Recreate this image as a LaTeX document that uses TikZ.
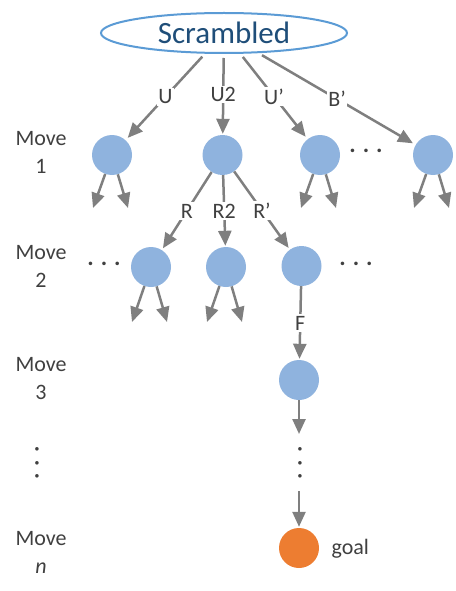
\documentclass[tikz,border=0pt]{standalone}
\usepackage{fontspec}
\setmainfont{Carlito}
\usetikzlibrary{arrows.meta,shapes.geometric}
\definecolor{lgray}{RGB}{127,127,127}
\definecolor{nodeblue}{RGB}{143,179,222}
\definecolor{ellblue}{RGB}{91,155,213}
\definecolor{txtblue}{RGB}{31,78,121}
\definecolor{goalor}{RGB}{237,125,49}
\definecolor{txtgray}{RGB}{64,64,64}
\begin{document}
\begin{tikzpicture}[x=1pt,y=-1pt,
  state/.style={circle,fill=nodeblue,minimum size=40pt,inner sep=0pt},
  goalstate/.style={circle,fill=goalor,minimum size=40pt,inner sep=0pt},
  arr/.style={draw=lgray,line width=2.5pt,-{Triangle[length=15pt,width=13pt]},fill=lgray},
  elab/.style={fill=white,inner sep=1.5pt,text=txtgray,font=\fontsize{22}{26}\selectfont},
  movelab/.style={align=center,text=txtgray,font=\fontsize{22}{28}\selectfont},
  hdots/.style={text=txtgray,font=\fontsize{24}{26}\bfseries\selectfont,inner sep=0pt},
  vdotsnode/.style={text=txtgray,font=\fontsize{24}{26}\bfseries\selectfont,inner sep=0pt,rotate=90}
]
\useasboundingbox (0,0) rectangle (455,591);

% root
\node[ellipse,draw=ellblue,line width=2pt,minimum width=246pt,minimum height=40pt,inner sep=0pt,
      text=txtblue,font=\fontsize{31}{34}\selectfont] (S) at (224,33) {Scrambled};

% level 1
\node[state] (a1) at (112,155) {};
\node[state] (a2) at (222.5,155) {};
\node[state] (a3) at (320,155) {};
\node[state] (a4) at (433,155) {};
\node[hdots] (d1) at (366,151) {.\hspace{7pt}.\hspace{7pt}.};

% level 2
\node[state] (b1) at (151,267) {};
\node[state] (b2) at (226,267) {};
\node[state] (b3) at (301.5,266) {};
\node[hdots] (d2) at (104,264) {.\hspace{7pt}.\hspace{7pt}.};
\node[hdots] (d3) at (356,264) {.\hspace{7pt}.\hspace{7pt}.};

% level 3
\node[state] (c1) at (299,380) {};
\node[vdotsnode] (vd) at (300,463) {.\hspace{7pt}.\hspace{7pt}.};
\node[goalstate] (g) at (299,548) {};
\node[text=txtgray,font=\fontsize{22}{26}\selectfont,anchor=west] (gl) at (328,549) {goal};

% move labels
\node[movelab] (m1) at (41,152) {Move\\1};
\node[movelab] (m2) at (41,266) {Move\\2};
\node[movelab] (m3) at (41,379) {Move\\3};
\node[vdotsnode] (vl) at (37,463) {.\hspace{7pt}.\hspace{7pt}.};
\node[movelab] (mn) at (41,552) {Move\\\textit{n}};

% root edges
\draw[arr,shorten <=4pt,shorten >=3pt] (S) -- node[elab] {U} (a1);
\draw[arr,shorten <=4pt,shorten >=1pt] (S) -- node[elab] {U2} (a2);
\draw[arr,shorten <=4pt,shorten >=3pt] (S) -- node[elab] {U’} (a3);
\draw[arr,shorten <=4pt,shorten >=3pt] (S) -- node[elab] {B’} (a4);

% level 1 to level 2
\draw[arr,shorten >=2pt] (a2) -- node[elab] {R} (b1);
\draw[arr,shorten >=1pt] (a2) -- node[elab] {R2} (b2);
\draw[arr,shorten >=2pt] (a2) -- node[elab] {R’} (b3);

% stubs level 1
\foreach \n/\x in {a1/112,a3/320,a4/433}{
  \coordinate (\n l) at (\x-19,208);
  \coordinate (\n r) at (\x+16,208);
  \draw[arr] (\n) -- (\n l);
  \draw[arr] (\n) -- (\n r);
}
% stubs level 2
\foreach \n/\x in {b1/151,b2/226}{
  \coordinate (\n l) at (\x-19,322);
  \coordinate (\n r) at (\x+16,322);
  \draw[arr] (\n) -- (\n l);
  \draw[arr] (\n) -- (\n r);
}

% chain
\draw[arr,shorten >=1pt] (b3) -- node[elab] {F} (c1);
\coordinate (e1) at (299,434);
\draw[arr] (c1) -- (e1);
\coordinate (e2) at (299,491);
\draw[arr,shorten >=1pt] (e2) -- (g);
\end{tikzpicture}
\end{document}
